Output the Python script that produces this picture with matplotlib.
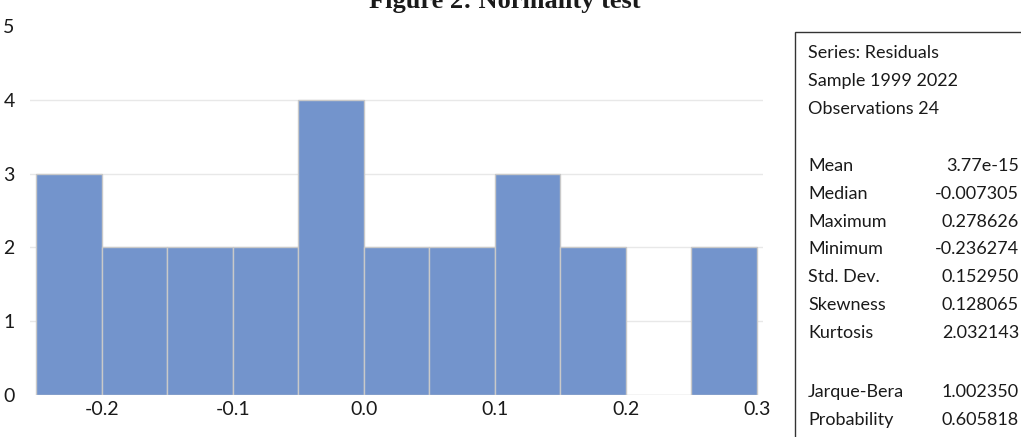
import matplotlib.pyplot as plt
import numpy as np
from matplotlib.patches import Rectangle

BAR = "#7394cc"
EDGE = "#c9c9c9"
GRID = "#e8e8e8"
INK = "#1a1a1a"

# histogram of residuals
bin_edges = np.round(np.arange(-0.25, 0.3001, 0.05), 2)
counts = [3, 2, 2, 2, 4, 2, 2, 3, 2, 0, 2]
x_ticks = [-0.2, -0.1, 0.0, 0.1, 0.2, 0.3]
y_ticks = [0, 1, 2, 3, 4, 5]

# summary statistics box
header_lines = ["Series: Residuals", "Sample 1999 2022", "Observations 24"]
stat_names = ["Mean", "Median", "Maximum", "Minimum", "Std. Dev.", "Skewness", "Kurtosis"]
stat_values = ["3.77e-15", "-0.007305", "0.278626", "-0.236274", "0.152950", "0.128065", "2.032143"]
test_names = ["Jarque-Bera", "Probability"]
test_values = ["1.002350", "0.605818"]

W, H = 1021, 437
plt.rcParams["font.family"] = ["Lato", "DejaVu Sans"]

fig = plt.figure(figsize=(W / 100, H / 100), dpi=100)
fig.patch.set_facecolor("white")
ax = fig.add_axes([30 / W, 42 / H, 733 / W, 369 / H])

ax.bar(bin_edges[:-1], counts, width=np.diff(bin_edges), align="edge",
       color=BAR, edgecolor=EDGE, linewidth=1.0, zorder=2)

ax.set_xlim(-0.2546, 0.3046)
ax.set_ylim(0, 5)
ax.set_xticks(x_ticks)
ax.set_xticklabels([f"{t:.1f}" for t in x_ticks])
ax.set_yticks(y_ticks)
ax.tick_params(length=0, labelsize=14, colors=INK)
ax.tick_params(axis="x", pad=4)
ax.tick_params(axis="y", pad=11)
for s in ax.spines.values():
    s.set_visible(False)
for yv in y_ticks[1:-1]:
    ax.axhline(yv, color=GRID, linewidth=1.0, zorder=1)

fig.text(505 / W, 1 - 8 / H, "Figure 2: Normality test", ha="center", va="baseline",
         fontsize=19, fontweight="bold", family="Liberation Serif", color=INK)

# stats box running past the image edge
fig.patches.append(Rectangle((795 / W, -0.1), 0.5, 1 - 32 / H + 0.1,
                             transform=fig.transFigure, fill=False,
                             edgecolor="#333333", linewidth=1.0, clip_on=False))

FS = 13
lx, rx = 808 / W, 1019 / W
step = 28
y0 = 53
for i, line in enumerate(header_lines):
    fig.text(lx, 1 - (y0 + i * step) / H, line, va="center", fontsize=FS, color=INK)
y1 = 166
for i, (n, v) in enumerate(zip(stat_names, stat_values)):
    yy = 1 - (y1 + i * 27.8) / H
    fig.text(lx, yy, n, va="center", fontsize=FS, color=INK)
    fig.text(rx, yy, v, va="center", ha="right", fontsize=FS, color=INK)
y2 = 392
for i, (n, v) in enumerate(zip(test_names, test_values)):
    yy = 1 - (y2 + i * step) / H
    fig.text(lx, yy, n, va="center", fontsize=FS, color=INK)
    fig.text(rx, yy, v, va="center", ha="right", fontsize=FS, color=INK)

fig.savefig("out.png", dpi=100)
